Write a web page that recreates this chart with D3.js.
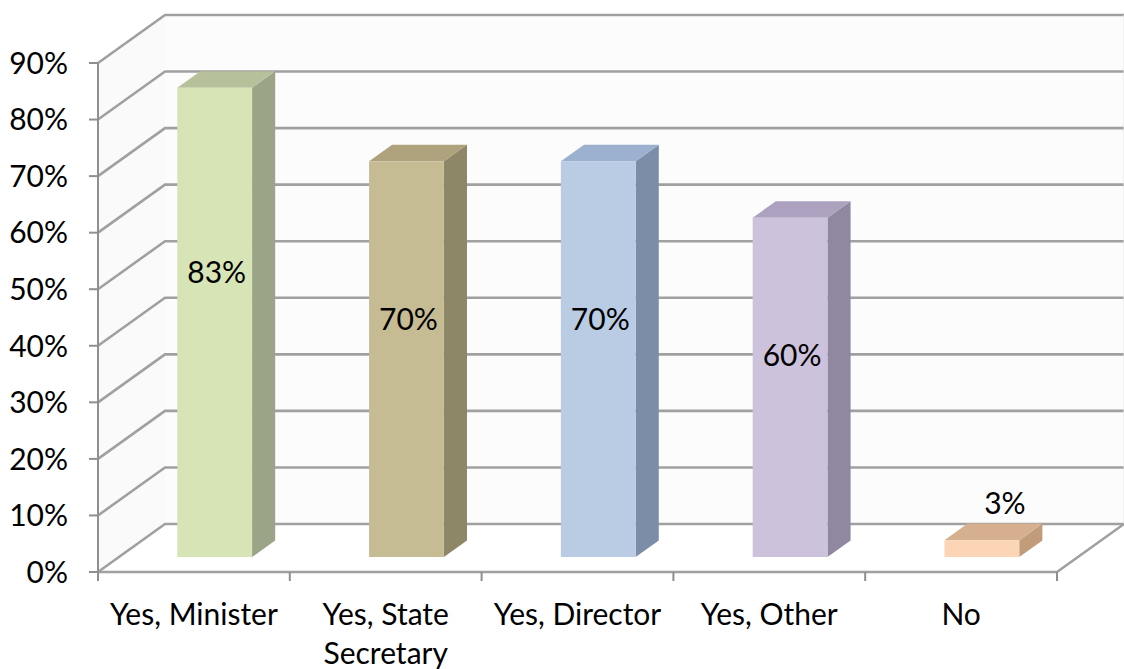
<!DOCTYPE html>
<html>
<head>
<meta charset="utf-8">
<script src="https://cdn.jsdelivr.net/npm/d3@7"></script>
<style>
  html, body { margin: 0; padding: 0; background: #ffffff; }
  svg { display: block; }
  text { font-family: Lato, "Open Sans", sans-serif; fill: #000; }
</style>
</head>
<body>
<svg id="chart" width="1124" height="669"></svg>
<script>
// Survey answers and their shares
const categories = ["Yes, Minister", "Yes, State Secretary", "Yes, Director", "Yes, Other", "No"];
const values = [0.83, 0.70, 0.70, 0.60, 0.03];
const tickValues = [0, 0.1, 0.2, 0.3, 0.4, 0.5, 0.6, 0.7, 0.8, 0.9];
const faceColors = ["#d7e4b6", "#c6bc93", "#b9cce4", "#cdc2db", "#fbd5b5"];
const sideColors = ["#9ca487", "#8d8667", "#7c8ea7", "#8f88a0", "#c29c7a"];
const topColors  = ["#b6c09a", "#aea37c", "#9cb1cf", "#aca2bf", "#d5af8e"];

const svg = d3.select("#chart");
const FS = 30;

// Front plane of the 3-D box
const x = d3.scaleBand().domain(categories).range([98, 1057]).paddingInner(0.61).paddingOuter(0.305);
const y = d3.scaleLinear().domain([0, 0.9]).range([572, 63]);
// Depth vector from the front plane to the back wall
const DX = 67, DY = -48;
const proj = (px, py, z) => [px + DX * z, py + DY * z];
const step = x.step();
const x0 = 98, x1 = 1057;

// Walls
const pts = (arr) => arr.map(p => p.join(",")).join(" ");
svg.append("polygon")
  .attr("points", pts([proj(x0, y(0), 1), proj(x0, y(0.9), 1), proj(x1, y(0.9), 1), proj(x1, y(0), 1)]))
  .attr("fill", "#fcfcfc");
svg.append("polygon")
  .attr("points", pts([proj(x0, y(0), 0), proj(x0, y(0.9), 0), proj(x0, y(0.9), 1), proj(x0, y(0), 1)]))
  .attr("fill", "#fafafa");

// Gridlines: diagonal on the side wall, horizontal on the back wall
const grid = svg.append("g").attr("fill", "none").attr("stroke", "#a0a0a0").attr("stroke-width", 2.6);
tickValues.forEach(t => {
  const a = proj(x0, y(t), 0), b = proj(x0, y(t), 1), c = proj(x1, y(t), 1);
  grid.append("polyline").attr("points", pts([a, b, c]));
});
// Right edge of the back wall and the floor outline
svg.append("line")
  .attr("x1", proj(x1, y(0), 1)[0]).attr("y1", proj(x1, y(0), 1)[1])
  .attr("x2", proj(x1, y(0.9), 1)[0]).attr("y2", proj(x1, y(0.9), 1)[1])
  .attr("stroke", "#e6e6e6").attr("stroke-width", 1);
svg.append("polyline")
  .attr("points", pts([proj(x0, y(0), 0), proj(x1, y(0), 0), proj(x1, y(0), 1)]))
  .attr("fill", "none").attr("stroke", "#a0a0a0").attr("stroke-width", 2.6);

// Bars as boxes sitting in the middle of the depth
const zf = 0.31, zb = 0.655;
const bars = svg.append("g");
categories.forEach((c, i) => {
  const v = values[i];
  const L = x(c), R = x(c) + x.bandwidth();
  const fBL = proj(L, y(0), zf), fTL = proj(L, y(v), zf), fTR = proj(R, y(v), zf), fBR = proj(R, y(0), zf);
  const bTL = proj(L, y(v), zb), bTR = proj(R, y(v), zb), bBR = proj(R, y(0), zb);
  const g = bars.append("g");
  g.append("polygon").attr("points", pts([fBR, fTR, bTR, bBR])).attr("fill", sideColors[i]);
  g.append("polygon").attr("points", pts([fTL, bTL, bTR, fTR])).attr("fill", topColors[i]);
  g.append("polygon").attr("points", pts([fBL, fTL, fTR, fBR])).attr("fill", faceColors[i]);
});

// Value axis
const axisG = svg.append("g").attr("stroke", "#8f8f8f").attr("stroke-width", 2);
axisG.append("line").attr("x1", x0).attr("x2", x0).attr("y1", y(0.9)).attr("y2", y(0) + 8);
tickValues.forEach(t => {
  axisG.append("line").attr("x1", x0 - 9).attr("x2", x0).attr("y1", y(t)).attr("y2", y(t));
});
const pct = d3.format(".0%");
svg.append("g").selectAll("text").data(tickValues).join("text")
  .attr("x", 68).attr("y", d => y(d)).attr("dy", "0.36em")
  .attr("text-anchor", "end").attr("font-size", FS)
  .text(d => pct(d));

// Category axis ticks at band boundaries
d3.range(categories.length + 1).forEach(i => {
  const tx = x0 + i * step;
  axisG.append("line").attr("x1", tx).attr("x2", tx).attr("y1", y(0)).attr("y2", y(0) + 9);
});

// Category labels, wrapped on the comma for long names
svg.append("g").selectAll("text").data(categories).join("text")
  .attr("text-anchor", "middle").attr("font-size", FS)
  .attr("transform", d => `translate(${x(d) + x.bandwidth() / 2},625)`)
  .each(function (d) {
    const lines = d === "Yes, State Secretary" ? ["Yes, State", "Secretary"] : [d];
    d3.select(this).selectAll("tspan").data(lines).join("tspan")
      .attr("x", 0).attr("y", (l, k) => k * 39).text(l => l);
  });

// Value labels
svg.append("g").selectAll("text").data(categories).join("text")
  .attr("text-anchor", "middle").attr("font-size", FS)
  .attr("x", (d, i) => {
    const cx = proj(x(d) + x.bandwidth() / 2, 0, zf)[0];
    return values[i] < 0.1 ? cx + 23 : cx + 2;
  })
  .attr("y", (d, i) => {
    const v = values[i];
    if (v < 0.1) return proj(0, y(v), zb)[1] - 10;
    return y(v * 0.64) + 11;
  })
  .text((d, i) => pct(values[i]));
</script>
</body>
</html>
